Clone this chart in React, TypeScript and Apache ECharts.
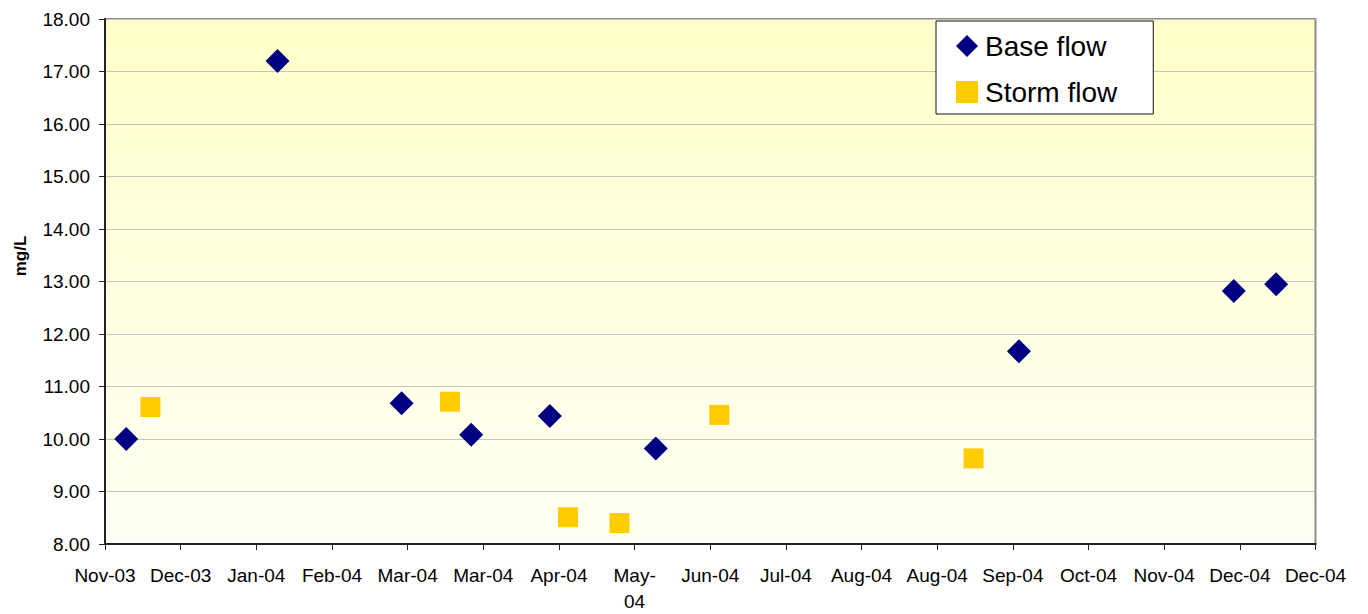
import React, { useEffect, useRef } from "react";
import * as echarts from "echarts";

// Excel date axis: min = 25-Nov-2003 (serial 37950), major unit 25 days
const X_MIN = 37950;
const X_STEP = 25;
const X_MAX = 38350;
const xTickLabels = [
  "Nov-03", "Dec-03", "Jan-04", "Feb-04", "Mar-04", "Mar-04", "Apr-04", "May-\n04",
  "Jun-04", "Jul-04", "Aug-04", "Aug-04", "Sep-04", "Oct-04", "Nov-04", "Dec-04", "Dec-04",
];

const baseDates = [
  "2003-12-02", "2004-01-21", "2004-03-02", "2004-03-25", "2004-04-20",
  "2004-05-25", "2004-09-22", "2004-12-02", "2004-12-16",
];
const baseValues = [10.0, 17.2, 10.68, 10.08, 10.44, 9.82, 11.67, 12.82, 12.95];

const stormDates = [
  "2003-12-10", "2004-03-18", "2004-04-26", "2004-05-13", "2004-06-15", "2004-09-07",
];
const stormValues = [10.61, 10.71, 8.51, 8.4, 10.46, 9.63];

function toSerial(d: string): number {
  const [y, m, day] = d.split("-").map(Number);
  return Math.round((Date.UTC(y, m - 1, day) - Date.UTC(1899, 11, 30)) / 86400000);
}

export default function App() {
  const ref = useRef<HTMLDivElement>(null);
  useEffect(() => {
    if (!ref.current) return;
    const chart = echarts.init(ref.current, undefined, { renderer: "svg" });
    const font = "Liberation Sans, Arial, sans-serif";
    chart.setOption({
      animation: false,
      backgroundColor: "#ffffff",
      textStyle: { fontFamily: font },
      grid: {
        left: 105,
        right: 52.5,
        top: 19,
        bottom: 67,
        show: true,
        borderColor: "#8c8c8c",
        borderWidth: 2,
        backgroundColor: new echarts.graphic.LinearGradient(0, 0, 0, 1, [
          { offset: 0, color: "#ffffca" },
          { offset: 1, color: "#fffff5" },
        ]),
      },
      legend: {
        left: 936,
        top: 21,
        orient: "vertical",
        backgroundColor: "#ffffff",
        borderColor: "#111111",
        borderWidth: 1,
        padding: [10, 36, 7, 20],
        itemGap: 16,
        itemWidth: 22,
        itemHeight: 22,
        textStyle: { fontSize: 28, color: "#000", fontFamily: font, lineHeight: 30, padding: [0, 0, 0, 2] },
        data: [
          { name: "Base flow", icon: "diamond" },
          { name: "Storm flow", icon: "rect" },
        ],
      },
      xAxis: {
        type: "value",
        min: X_MIN,
        max: X_MAX,
        interval: X_STEP,
        splitLine: { show: false },
        axisLine: { show: true, lineStyle: { color: "#222", width: 2 } },
        axisTick: { show: true, length: 6, lineStyle: { color: "#222", width: 1 } },
        axisLabel: {
          show: true,
          showMinLabel: true,
          showMaxLabel: true,
          margin: 18,
          fontSize: 19,
          lineHeight: 26,
          color: "#000",
          fontFamily: font,
          formatter: (v: number) => xTickLabels[Math.round((v - X_MIN) / X_STEP)] ?? "",
        },
      },
      yAxis: {
        type: "value",
        min: 8,
        max: 18,
        interval: 1,
        splitLine: { show: true, lineStyle: { color: "#c4c4c4", width: 1 } },
        axisLine: { show: true, lineStyle: { color: "#222", width: 2 } },
        axisTick: { show: true, length: 6, lineStyle: { color: "#222", width: 1 } },
        axisLabel: {
          margin: 15,
          fontSize: 19,
          color: "#000",
          fontFamily: font,
          formatter: (v: number) => v.toFixed(2),
        },
      },
      graphic: [
        {
          type: "text",
          x: 20,
          y: 256,
          rotation: Math.PI / 2,
          style: {
            text: "mg/L",
            font: `bold 17px ${font}`,
            fill: "#000",
            align: "center",
            verticalAlign: "middle",
          },
        },
      ],
      series: [
        {
          name: "Base flow",
          type: "scatter",
          symbol: "diamond",
          symbolSize: 24,
          itemStyle: { color: "#000080", opacity: 1 },
          data: baseDates.map((d, i) => [toSerial(d), baseValues[i]]),
        },
        {
          name: "Storm flow",
          type: "scatter",
          symbol: "rect",
          symbolSize: 20,
          itemStyle: { color: "#ffcc00", opacity: 1 },
          data: stormDates.map((d, i) => [toSerial(d), stormValues[i]]),
        },
      ],
    });
    return () => chart.dispose();
  }, []);
  return (
    <div
      ref={ref}
      style={{ position: "fixed", left: 0, top: 0, width: 1368, height: 614 }}
    />
  );
}
